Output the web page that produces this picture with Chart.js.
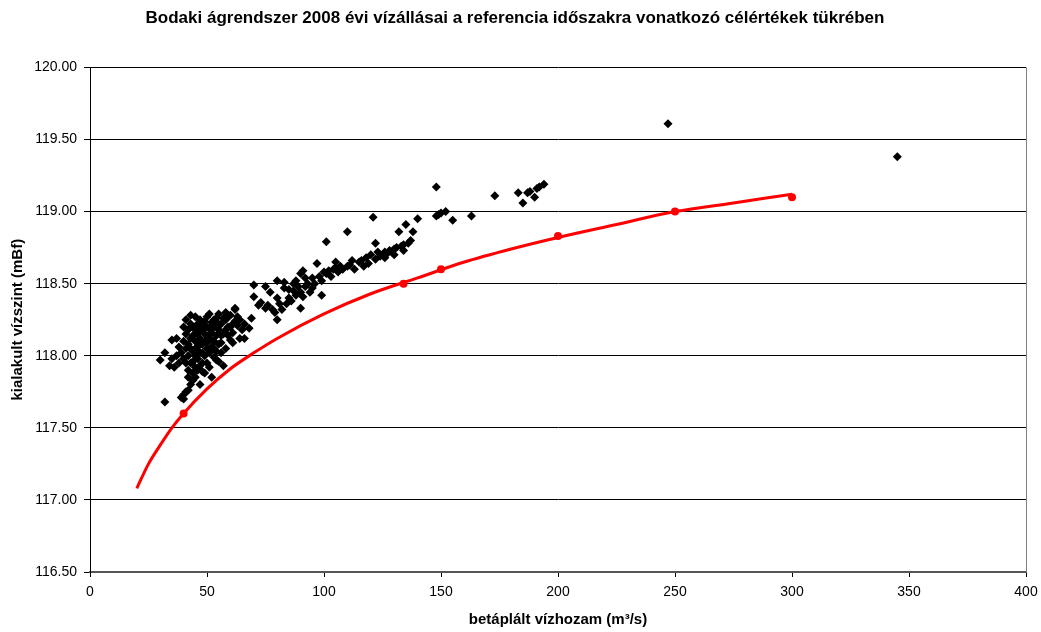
<!DOCTYPE html>
<html lang="hu">
<head>
<meta charset="utf-8">
<title>Bodaki ágrendszer 2008</title>
<script src="https://cdn.jsdelivr.net/npm/chart.js@4/dist/chart.umd.min.js"></script>
<style>
    html, body { margin: 0; padding: 0; background: #fff; }
    #wrap { width: 1041px; height: 632px; }
</style>
</head>
<body>
<div id="wrap"><canvas id="chart" width="1041" height="632"></canvas></div>
<script>
// 2008. évi mért pontok: betáplált vízhozam (m3/s) és kialakult vízszint (mBf)
const measuredFlow = [
    30, 32, 32, 34, 35, 35, 36, 37, 37, 38, 38, 39, 39, 40, 40, 40, 40, 40,
    41, 41, 41, 41, 42, 42, 42, 42, 42, 43, 43, 43, 43, 43, 44, 44, 44, 44, 44,
    45, 45, 45, 45, 45, 45, 46, 46, 46, 46, 46, 47, 47, 47, 47, 48, 48, 48, 48, 48,
    49, 49, 49, 50, 50, 50, 50, 50, 51, 51, 51, 52, 52, 52, 52, 53, 53, 53,
    54, 54, 54, 55, 55, 55, 55, 56, 56, 57, 57, 58, 58, 58, 59, 59, 60, 60,
    61, 61, 62, 62, 63, 63, 64, 65, 66, 68, 69, 70, 70, 72, 73, 75, 75, 76, 77,
    78, 79, 80, 80, 80, 81, 82, 83, 83, 84, 85, 86, 87, 88, 88, 89, 90, 90, 90,
    91, 91, 92, 93, 94, 95, 96, 97, 98, 99, 99, 100, 101, 101, 102, 103, 104,
    105, 106, 107, 108, 110, 110, 111, 113, 115, 116, 117, 118, 119, 120, 121,
    122, 122, 123, 124, 125, 126, 127, 128, 129, 130, 131, 132, 133, 134, 135,
    136, 137, 138, 140, 148, 148, 149, 150, 152, 155, 163, 173, 183, 185, 187,
    188, 190, 191, 192, 194, 247, 345,
    44, 46, 47, 48, 49, 50, 51, 52, 53, 54, 55, 56, 57, 58, 59, 60, 61, 62,
    45, 43, 42, 41, 47, 49, 51, 53, 56, 64, 66, 85, 95, 105, 112, 126, 130, 134, 92, 87
];
const measuredLevel = [
    117.97, 117.68, 118.02, 117.93, 117.98, 118.11, 117.92, 118.00, 118.12, 117.95, 118.06, 117.71, 118.02, 117.73, 117.70, 117.98, 118.10, 118.20,
    117.75, 118.05, 118.15, 118.25, 117.76, 117.90, 118.00, 118.08, 118.18, 117.80, 117.95, 118.12, 118.22, 118.28, 117.83, 117.88, 118.03, 118.14, 118.20,
    117.85, 117.92, 118.00, 118.10, 118.18, 118.27, 117.90, 117.98, 118.06, 118.15, 118.22, 117.80, 118.02, 118.12, 118.25, 117.89, 117.95, 118.08, 118.18, 118.21,
    118.00, 118.10, 118.24, 117.95, 118.05, 118.14, 118.20, 118.27, 118.02, 118.12, 118.29, 117.85, 118.06, 118.16, 118.23, 118.05, 118.10, 118.20,
    117.97, 118.14, 118.26, 117.96, 118.08, 118.18, 118.29, 118.09, 118.22, 117.93, 118.15, 118.05, 118.25, 118.30, 118.14, 118.20, 118.11, 118.28,
    118.09, 118.22, 118.33, 118.32, 118.27, 118.21, 118.12, 118.18, 118.12, 118.19, 118.26, 118.49, 118.41, 118.35, 118.37, 118.48, 118.33, 118.35, 118.44,
    118.32, 118.30, 118.25, 118.40, 118.52, 118.36, 118.32, 118.47, 118.51, 118.36, 118.40, 118.38, 118.45, 118.52, 118.42, 118.48, 118.57, 118.44, 118.33,
    118.41, 118.59, 118.48, 118.50, 118.44, 118.54, 118.50, 118.64, 118.55, 118.42, 118.52, 118.58, 118.57, 118.79, 118.59, 118.55, 118.60,
    118.61, 118.58, 118.62, 118.60, 118.86, 118.62, 118.63, 118.60, 118.65, 118.66, 118.62, 118.68, 118.64, 118.70, 118.96,
    118.78, 118.67, 118.72, 118.69, 118.70, 118.72, 118.71, 118.73, 118.72, 118.74, 118.75, 118.86, 118.76, 118.77, 118.91,
    118.78, 118.80, 118.86, 118.95, 119.17, 118.97, 118.98, 118.99, 119.00, 118.94, 118.97, 119.11, 119.13, 119.06, 119.13,
    119.14, 119.10, 119.16, 119.17, 119.19, 119.61, 119.38,
    117.96, 118.10, 118.18, 118.02, 118.15, 118.09, 118.19, 118.11, 118.25, 118.03, 118.22, 118.14, 118.26, 118.18, 118.27, 118.20, 118.16, 118.24,
    118.05, 118.05, 117.85, 117.95, 117.93, 117.88, 117.92, 117.99, 118.02, 118.25, 118.22, 118.46, 118.47, 118.65, 118.66, 118.68, 118.70, 118.73, 118.54, 118.50
];

// referencia időszak célértékei (piros pontok)
const targetFlow = [40, 134, 150, 200, 250, 300];
const targetLevel = [117.60, 118.50, 118.60, 118.83, 119.00, 119.10];

// célgörbe
const curveFlow = [20, 25, 30, 35, 40, 50, 60, 70, 80, 100, 120, 140, 160, 180, 200, 225, 250, 275, 300];
const curveLevel = [117.08, 117.25, 117.38, 117.50, 117.60, 117.77, 117.91, 118.02, 118.12, 118.29, 118.43, 118.54, 118.65, 118.74, 118.82, 118.91, 119.00, 119.06, 119.12];

const toPoints = (xs, ys) => xs.map((x, i) => ({ x: x, y: ys[i] }));

// keret a rajzterület jobb oldalán
const plotBorder = {
    id: 'plotBorder',
    afterDraw(chart) {
        const a = chart.chartArea;
        const ctx = chart.ctx;
        ctx.save();
        ctx.strokeStyle = '#808080';
        ctx.lineWidth = 1;
        ctx.beginPath();
        ctx.moveTo(a.right + 0.5, a.top);
        ctx.lineTo(a.right + 0.5, a.bottom);
        ctx.stroke();
        ctx.restore();
    }
};

Chart.defaults.font.family = '"Liberation Sans", Arial, sans-serif';
Chart.defaults.color = '#000';

new Chart(document.getElementById('chart'), {
    type: 'scatter',
    data: {
        datasets: [
            {
                label: '2008',
                data: toPoints(measuredFlow, measuredLevel),
                pointStyle: 'rectRot',
                pointRadius: 4.5,
                backgroundColor: '#000',
                borderColor: '#000',
                borderWidth: 0
            },
            {
                label: 'célgörbe',
                data: toPoints(curveFlow, curveLevel),
                showLine: true,
                pointRadius: 0,
                borderColor: '#ff0000',
                borderWidth: 3,
                tension: 0.4,
                cubicInterpolationMode: 'monotone'
            },
            {
                label: 'célértékek',
                data: toPoints(targetFlow, targetLevel),
                pointStyle: 'circle',
                pointRadius: 4,
                backgroundColor: '#ff0000',
                borderColor: '#ff0000',
                borderWidth: 0
            }
        ]
    },
    options: {
        responsive: false,
        animation: false,
        layout: { padding: { top: 4, right: 15, bottom: 3, left: 4 } },
        plugins: {
            legend: { display: false },
            tooltip: { enabled: false },
            title: {
                display: true,
                text: 'Bodaki ágrendszer 2008 évi vízállásai a referencia időszakra vonatkozó célértékek tükrében',
                font: { size: 17, weight: 'bold' },
                padding: { top: 4, bottom: 39 }
            }
        },
        scales: {
            x: {
                type: 'linear',
                min: 0,
                max: 400,
                ticks: { stepSize: 50, font: { size: 14 }, padding: 7 },
                grid: { drawOnChartArea: false, tickLength: 5, color: '#000' },
                border: { color: '#555', width: 2 },
                title: {
                    display: true,
                    text: 'betáplált vízhozam (m³/s)',
                    font: { size: 15, weight: 'bold' },
                    padding: { top: 4, bottom: 0 }
                },
                afterFit(scale) {
                    scale.height = 57;
                    scale.paddingRight = 0;
                }
            },
            y: {
                min: 116.5,
                max: 120,
                ticks: {
                    stepSize: 0.5,
                    font: { size: 14 },
                    padding: 7,
                    callback: v => v.toFixed(2)
                },
                grid: { color: '#000', lineWidth: 1, tickLength: 6 },
                border: { color: '#000', width: 1 },
                title: {
                    display: true,
                    text: 'kialakult vízszint (mBf)',
                    font: { size: 15, weight: 'bold' },
                    padding: { top: 5, bottom: 0 }
                },
                afterFit(scale) { scale.width = 86; }
            }
        }
    },
    plugins: [plotBorder]
});
</script>
</body>
</html>
